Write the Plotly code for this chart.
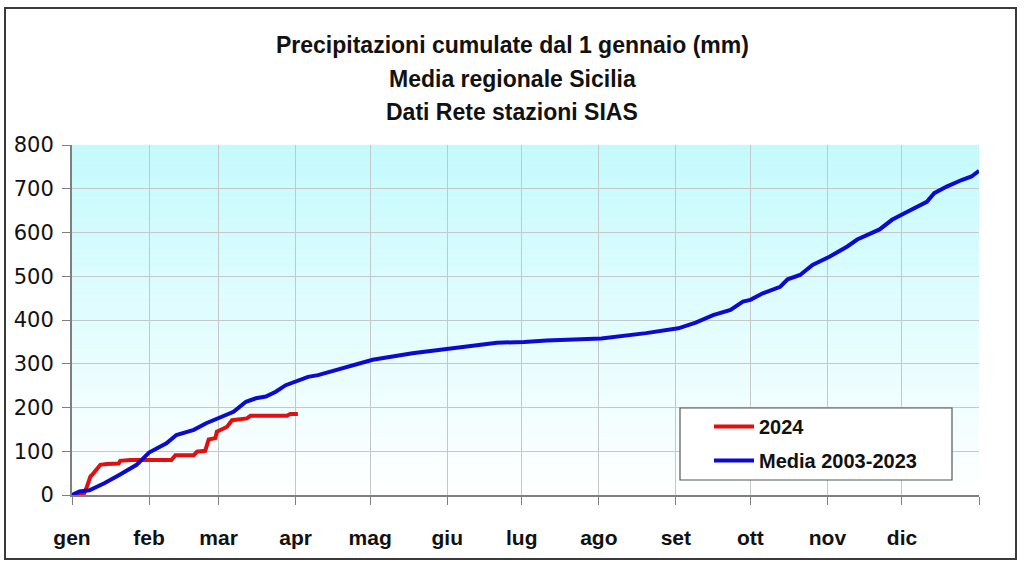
import plotly.graph_objects as go

# ---------------- data ----------------
month_labels = ["gen", "feb", "mar", "apr", "mag", "giu", "lug", "ago", "set", "ott", "nov", "dic", ""]
month_start_day = [0, 31, 59, 90, 120, 151, 181, 212, 243, 273, 304, 334, 365]

y_ticks = [0, 100, 200, 300, 400, 500, 600, 700, 800]

media_day = [0, 3, 7, 13, 19, 26, 31, 33, 38, 42, 49, 54, 59, 65, 70, 74, 78, 82, 86, 90,
             95, 99, 111, 121, 137, 151, 171, 182, 191, 213, 225, 231, 244, 251, 258, 265,
             270, 273, 278, 285, 288, 293, 298, 305, 312, 316, 325, 330, 335, 340, 344,
             347, 352, 358, 362, 365]
media_val = [0, 8, 11, 27, 46, 69, 97, 103, 118, 137, 149, 164, 175, 190, 213, 221, 225, 236,
             251, 259, 270, 274, 293, 309, 324, 333, 348, 350, 353, 358, 366, 370, 381, 394,
             411, 423, 442, 446, 461, 476, 493, 503, 526, 545, 568, 584, 607, 629, 644, 658,
             670, 690, 705, 720, 728, 741]

y2024_day = [0, 4.6, 6, 7.4, 8.7, 11.4, 14, 18.8, 19.4, 23.5, 40, 41.6, 49, 50.3, 53.6, 55,
             57.7, 58.3, 61, 62.4, 64.4, 67.7, 70.4, 71.8, 75.8, 86.5, 87.8, 90.9]
y2024_val = [0, 0, 19, 42, 50, 69, 71, 72, 78, 80, 80, 91, 91, 99, 101, 127, 130, 145, 152,
             156, 171, 173, 175, 181, 181, 181, 185, 185]

title_lines = ["Precipitazioni cumulate dal 1 gennaio (mm)",
               "Media regionale Sicilia",
               "Dati Rete stazioni SIAS"]

# ---------------- figure ----------------
W, H = 1024, 568
L, R, T, B = 72, 45, 145, 73
PW, PH = W - L - R, H - T - B


def px_x(p):
    return (p - L) / PW


def px_y(p):
    return (H - B - p) / PH


fig = go.Figure()
fig.add_trace(go.Scatter(x=y2024_day, y=y2024_val, mode="lines", name="2024",
                         line=dict(color="#e01010", width=4), legendrank=1, legendgroup="a"))
fig.add_trace(go.Scatter(x=media_day, y=media_val, mode="lines", name="Media 2003-2023",
                         line=dict(color="#0a0ad0", width=4), legendrank=2, legendgroup="b"))

shapes = []
# gradient background of the plot area (light cyan on top to white at bottom)
n = 60
top = (196, 250, 253)
for i in range(n):
    f = (i + 0.5) / n  # 0 at bottom, 1 at top
    c = tuple(round(255 + (t - 255) * f) for t in top)
    shapes.append(dict(type="rect", xref="x domain", yref="y domain",
                       x0=0, x1=1, y0=i / n, y1=(i + 1) / n + 0.001,
                       fillcolor="rgb(%d,%d,%d)" % c, line=dict(width=0), layer="below"))
# legend box
shapes.append(dict(type="rect", xref="paper", yref="paper",
                   x0=px_x(680), x1=px_x(952), y0=px_y(480), y1=px_y(408),
                   fillcolor="white", line=dict(color="#555555", width=1.2), layer="above"))
# outer frame
shapes.append(dict(type="rect", xref="paper", yref="paper",
                   x0=px_x(5), x1=px_x(1016), y0=px_y(559), y1=px_y(8),
                   fillcolor="rgba(0,0,0,0)", line=dict(color="#3a3a3a", width=2)))

annotations = []
for i, t in enumerate(title_lines):
    annotations.append(dict(text="<b>%s</b>" % t, xref="paper", yref="paper",
                            x=px_x(512), y=px_y(45 + i * 33.5), xanchor="center", yanchor="middle",
                            showarrow=False,
                            font=dict(family="Liberation Sans, Arial, sans-serif", size=23,
                                      color="#111111")))

fig.update_layout(
    width=W, height=H,
    margin=dict(l=L, r=R, t=T, b=B, autoexpand=False),
    paper_bgcolor="white", plot_bgcolor="white",
    shapes=shapes, annotations=annotations,
    showlegend=True,
    legend=dict(x=px_x(709), y=px_y(407), xanchor="left", yanchor="top",
                bgcolor="rgba(0,0,0,0)", borderwidth=0,
                font=dict(family="Liberation Sans, Arial, sans-serif", size=20, color="#111111",
                          weight="bold"),
                tracegroupgap=5, itemwidth=40),
    xaxis=dict(range=[0, 365], tickmode="array", tickvals=month_start_day, ticktext=month_labels,
               showgrid=True, gridcolor="#c4c8c8", gridwidth=1, zeroline=False,
               showline=True, linecolor="#7f7f7f", linewidth=2,
               ticks="outside", ticklen=8, tickcolor="#7f7f7f", tickwidth=1,
               ticklabelstandoff=15,
               tickfont=dict(family="Liberation Sans, Arial, sans-serif", size=21, color="#111111",
                             weight="bold")),
    yaxis=dict(range=[0, 800], tickmode="array", tickvals=y_ticks,
               showgrid=True, gridcolor="#c4c8c8", gridwidth=1, zeroline=False,
               showline=True, linecolor="#7f7f7f", linewidth=2,
               ticks="outside", ticklen=8, tickcolor="#7f7f7f", tickwidth=1,
               ticklabelstandoff=4,
               tickfont=dict(family="DejaVu Sans, sans-serif", size=21, color="#111111")),
)

fig.write_html("out.html")
